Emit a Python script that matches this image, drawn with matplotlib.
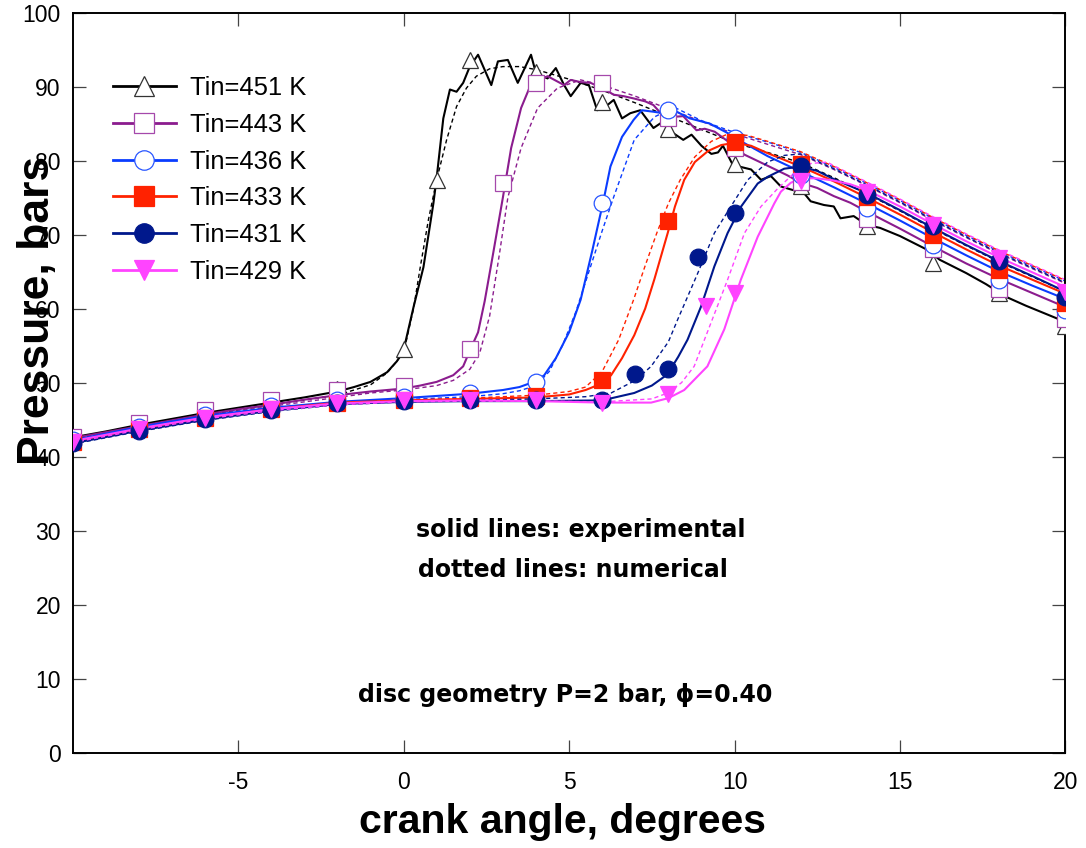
import matplotlib
matplotlib.use("Agg")
import matplotlib.pyplot as plt
from matplotlib.lines import Line2D

plt.rcParams['font.family'] = ['Liberation Sans', 'DejaVu Sans']
plt.rcParams['axes.unicode_minus'] = False

# ---- experimental (solid) and numerical (dashed) pressure traces ----
x451 = [-10, -9, -8, -7, -6, -5, -4, -3, -2, -1.5, -1, -0.5, -0.2, 0, 0.3, 0.6, 0.9, 1.0, 1.2, 1.4,
        1.6, 1.8, 2.0, 2.25, 2.65, 2.85, 3.15, 3.45, 3.85, 4.0, 4.35, 4.6, 4.85, 5.05, 5.35, 5.6, 5.85,
        6.05, 6.35, 6.6, 6.85, 7.15, 7.55, 7.85, 8.15, 8.45, 8.7, 9.0, 9.3, 9.5, 9.65, 9.95, 10.5,
        10.8, 11.1, 11.4, 11.7, 12.1, 12.3, 12.7, 13.0, 13.2, 13.6, 14.0, 14.4, 15.0, 15.4, 15.8,
        16.2, 16.6, 17.0, 17.6, 18.2, 18.8, 19.4, 20]
p451 = [42.6, 43.4, 44.3, 45.1, 45.9, 46.6, 47.3, 48.0, 48.8, 49.4, 50.1, 51.4, 52.9, 54.4, 60.2,
        65.6, 74.2, 77.7, 85.7, 89.6, 89.3, 90.5, 92.7, 94.3, 90.2, 93.4, 93.6, 90.5, 94.3, 91.8,
        91.1, 92.5, 90.2, 88.7, 90.5, 90.2, 86.8, 87.1, 88.2, 85.7, 86.4, 86.8, 84.4, 85.3, 83.7,
        82.8, 83.5, 82.0, 80.9, 81.1, 82.0, 79.4, 78.8, 77.4, 77.9, 76.5, 76.1, 75.6, 74.5, 74.0,
        73.8, 72.2, 72.5, 71.3, 70.9, 69.8, 68.9, 68.0, 66.6, 65.7, 64.8, 63.3, 61.6, 60.4, 59.3, 58.2]
x451_num = [-10, -8, -6, -4, -2, -1, -0.5, 0, 0.3, 0.5, 0.75, 1.0, 1.3, 1.6, 1.9, 2.2, 2.6, 3.0,
            3.5, 4.0, 5, 6, 7, 8, 9, 10, 11, 12, 13, 14, 15, 16, 17, 18, 19, 20]
p451_num = [42.3, 44.0, 45.6, 47.0, 48.3, 49.7, 51.3, 54.0, 60.0, 65.5, 72.0, 77.4, 82.8, 87.3,
            89.8, 91.4, 92.4, 92.7, 92.7, 92.3, 91.0, 89.5, 87.8, 86.0, 84.2, 82.4, 81.1, 79.7,
            77.7, 75.5, 73.2, 70.8, 68.5, 66.3, 64.3, 62.3]

x443 = [-10, -9, -8, -7, -6, -5, -4, -3, -2, -1, 0, 0.5, 1.0, 1.5, 1.8, 2.0, 2.25, 2.45, 2.7, 3.0,
        3.25, 3.55, 3.8, 4.1, 4.35, 4.6, 4.85, 5.05, 5.35, 5.65, 6.0, 6.35, 6.65, 6.95, 7.3, 7.55,
        7.85, 8.1, 8.45, 8.85, 9.1, 9.4, 9.8, 10.3, 11.0, 11.6, 12.0, 12.5, 13.0, 13.5, 14, 15, 16,
        17, 18, 19, 20]
p443 = [42.5, 43.3, 44.1, 44.9, 45.7, 46.4, 47.0, 47.7, 48.3, 48.8, 49.2, 49.6, 50.1, 51.0, 52.2,
        54.3, 56.8, 61.0, 67.3, 75.0, 81.7, 87.1, 89.8, 90.8, 91.4, 90.8, 90.2, 90.9, 90.6, 90.5,
        89.8, 88.9, 88.7, 88.4, 88.0, 87.5, 86.0, 85.9, 86.0, 84.1, 84.3, 83.9, 82.6, 80.8, 79.3,
        78.0, 77.0, 76.3, 75.2, 74.3, 73.1, 70.8, 68.4, 66.1, 64.0, 62.1, 60.2]
x443_num = [-10, -8, -6, -4, -2, -1, 0, 1, 1.5, 2.0, 2.3, 2.6, 2.9, 3.15, 3.55, 4.05, 4.65, 5.35,
            6, 7, 8, 9, 10, 11, 12, 13, 14, 15, 16, 17, 18, 19, 20]
p443_num = [42.2, 43.9, 45.5, 46.8, 48.0, 48.6, 49.0, 49.6, 50.3, 51.8, 54.0, 59.0, 67.5, 75.0,
            81.7, 87.1, 89.8, 90.9, 90.2, 88.7, 87.0, 85.3, 83.6, 82.2, 80.8, 78.8, 76.6, 74.3,
            71.9, 69.6, 67.4, 65.4, 63.4]

x436 = [-10, -8, -6, -4, -2, 0, 1, 2, 3, 3.5, 4.0, 4.25, 4.6, 5.0, 5.35, 5.7, 6.05, 6.25, 6.6,
        6.95, 7.2, 7.55, 7.85, 8.25, 8.65, 9.25, 9.8, 10.2, 11, 12, 13, 14, 15, 16, 17, 18, 19, 20]
p436 = [42.2, 44.0, 45.5, 46.6, 47.4, 47.9, 48.2, 48.5, 49.0, 49.4, 50.2, 51.0, 53.3, 56.8, 61.2,
        67.8, 74.8, 79.2, 83.2, 85.5, 86.8, 86.6, 86.4, 86.6, 85.7, 85.0, 83.7, 82.6, 80.6, 78.5,
        76.4, 74.2, 71.9, 69.5, 67.2, 65.0, 63.1, 61.3]
x436_num = [-10, -8, -6, -4, -2, 0, 2, 3, 3.5, 4.0, 4.4, 4.8, 5.2, 5.6, 6.0, 6.35, 6.97, 7.58,
            8.18, 9, 10, 11, 12, 13, 14, 15, 16, 17, 18, 19, 20]
p436_num = [42.0, 43.8, 45.3, 46.5, 47.3, 47.7, 48.1, 48.5, 48.9, 49.6, 51.5, 55.0, 59.5, 65.0,
            70.5, 75.1, 82.8, 85.9, 87.2, 85.4, 83.8, 82.5, 81.1, 79.1, 76.9, 74.6, 72.2, 69.9,
            67.7, 65.7, 63.7]

x433 = [-10, -8, -6, -4, -2, 0, 2, 4, 5, 5.5, 6.0, 6.27, 6.6, 6.97, 7.3, 7.58, 7.98, 8.2, 8.48,
        8.8, 9.2, 9.6, 10.0, 10.5, 11, 12, 13, 14, 15, 16, 17, 18, 19, 20]
p433 = [42.0, 43.7, 45.2, 46.4, 47.3, 47.6, 47.8, 48.0, 48.4, 49.0, 49.9, 51.0, 53.3, 56.4, 60.0,
        64.0, 70.2, 73.8, 77.4, 79.8, 81.3, 82.1, 82.4, 82.0, 81.0, 79.2, 77.2, 75.0, 72.7, 70.3,
        68.0, 65.8, 63.9, 62.0]
x433_num = [-10, -8, -6, -4, -2, 0, 2, 4, 5, 5.5, 6.0, 6.5, 6.95, 7.3, 7.65, 8.0, 8.36, 8.8, 9.3,
            9.8, 10.4, 11, 12, 13, 14, 15, 16, 17, 18, 19, 20]
p433_num = [41.9, 43.6, 45.1, 46.3, 47.2, 47.6, 47.9, 48.3, 48.8, 49.4, 51.5, 55.8, 61.2, 65.8,
            70.2, 74.2, 77.4, 80.5, 82.6, 83.6, 83.4, 82.6, 81.2, 79.2, 77.0, 74.7, 72.3, 70.0,
            67.8, 65.8, 63.8]

x431 = [-10, -8, -6, -4, -2, 0, 2, 4, 6, 6.97, 7.5, 7.97, 8.3, 8.58, 8.99, 9.39, 9.79, 10.2, 10.7,
        11.0, 11.5, 12.0, 12.5, 13, 14, 15, 16, 17, 18, 19, 20]
p431 = [41.8, 43.5, 45.0, 46.2, 47.1, 47.4, 47.5, 47.5, 47.6, 48.6, 49.6, 51.1, 53.5, 55.8, 60.3,
        65.7, 70.2, 73.8, 76.9, 77.8, 78.9, 79.2, 78.6, 77.5, 75.6, 73.3, 70.9, 68.6, 66.4, 64.4, 62.3]
x431_num = [-10, -8, -6, -4, -2, 0, 2, 4, 5.5, 6.27, 7.0, 7.48, 8.0, 8.28, 8.6, 8.89, 9.39, 9.89,
            10.4, 11, 11.5, 12, 13, 14, 15, 16, 17, 18, 19, 20]
p431_num = [41.7, 43.4, 44.9, 46.1, 47.0, 47.4, 47.6, 47.8, 48.1, 48.6, 50.3, 52.2, 55.5, 58.5,
            61.8, 64.8, 70.2, 73.8, 77.4, 79.8, 80.7, 80.9, 78.9, 76.7, 74.4, 72.0, 69.7, 67.5,
            65.5, 63.5]

x429 = [-10, -8, -6, -4, -2, 0, 2, 4, 6, 7.48, 8.0, 8.48, 9.18, 9.69, 10.19, 10.7, 11.2, 11.4,
        11.7, 12.0, 12.5, 13.0, 13.5, 14, 15, 16, 17, 18, 19, 20]
p429 = [42.1, 43.8, 45.3, 46.4, 47.2, 47.5, 47.6, 47.5, 47.3, 47.3, 47.9, 49.0, 52.2, 57.2, 63.9,
        69.7, 74.2, 75.8, 77.0, 77.6, 77.6, 77.3, 76.8, 76.0, 73.8, 71.4, 69.1, 66.9, 64.9, 62.9]
x429_num = [-10, -8, -6, -4, -2, 0, 2, 4, 6, 7.5, 7.98, 8.4, 8.78, 9.29, 9.79, 10.3, 10.8, 11.3,
            11.8, 12.3, 12.8, 13, 14, 15, 16, 17, 18, 19, 20]
p429_num = [41.9, 43.6, 45.1, 46.2, 47.0, 47.4, 47.5, 47.5, 47.4, 47.8, 48.6, 50.0, 52.2, 58.1,
            63.9, 70.2, 73.8, 76.2, 78.3, 79.6, 79.8, 79.3, 77.1, 74.8, 72.4, 70.1, 67.9, 65.9, 63.9]

# ---- symbols (measured points) ----
m451_x = [-10, -8, -6, -4, -2, 0, 1, 2, 4, 6, 8, 10, 12, 14, 16, 18, 20]
m451_y = [42.6, 44.4, 46.1, 47.6, 49.2, 54.6, 77.4, 93.6, 92.0, 87.9, 84.3, 79.6, 76.5, 71.1, 66.1, 62.1, 57.7]
m443_x = [-10, -8, -6, -4, -2, 0, 2, 3, 4, 6, 8, 10, 12, 14, 16, 18, 20]
m443_y = [42.7, 44.5, 46.3, 47.7, 49.0, 49.5, 54.6, 77.0, 90.5, 90.5, 85.8, 81.7, 77.1, 72.1, 68.1, 62.7, 58.6]
m436_x = [-10, -8, -6, -4, -2, 0, 2, 4, 6, 8, 10, 12, 14, 16, 18, 20]
m436_y = [42.3, 44.0, 45.6, 46.8, 47.6, 48.0, 48.6, 50.1, 74.3, 86.8, 83.0, 78.0, 73.6, 68.6, 63.9, 59.8]
m433_x = [-10, -8, -6, -4, -2, 0, 2, 4, 6, 8, 10, 12, 14, 16, 18, 20]
m433_y = [42.0, 43.7, 45.2, 46.4, 47.3, 47.7, 47.9, 48.2, 50.3, 71.8, 82.5, 79.6, 75.1, 70.0, 65.2, 60.7]
m431_x = [-10, -8, -6, -4, -2, 0, 2, 4, 6, 7, 8, 8.9, 10, 12, 14, 16, 18, 20]
m431_y = [41.8, 43.5, 45.1, 46.3, 47.2, 47.5, 47.6, 47.6, 47.7, 51.2, 51.8, 67.0, 72.9, 79.2, 75.4, 71.1, 66.4, 61.6]
m429_x = [-10, -8, -6, -4, -2, 0, 2, 4, 6, 8, 9.15, 10, 12, 14, 16, 18, 20]
m429_y = [42.0, 43.7, 45.2, 46.4, 47.3, 47.6, 47.7, 47.6, 47.3, 48.4, 60.4, 62.1, 77.3, 75.8, 71.3, 66.8, 62.3]

labels = ['Tin=451 K', 'Tin=443 K', 'Tin=436 K', 'Tin=433 K', 'Tin=431 K', 'Tin=429 K']

series = [
    (x451, p451, x451_num, p451_num, m451_x, m451_y, '#000000', '^', 'white', '#333333'),
    (x443, p443, x443_num, p443_num, m443_x, m443_y, '#8b1c8e', 's', 'white', '#a548ab'),
    (x436, p436, x436_num, p436_num, m436_x, m436_y, '#0a3cff', 'o', 'white', '#2855ff'),
    (x433, p433, x433_num, p433_num, m433_x, m433_y, '#ff2200', 's', '#ff2200', '#ff2200'),
    (x431, p431, x431_num, p431_num, m431_x, m431_y, '#00188c', 'o', '#00188c', '#00188c'),
    (x429, p429, x429_num, p429_num, m429_x, m429_y, '#ff44ff', 'v', '#ff44ff', '#ff44ff'),
]

fig = plt.figure(figsize=(10.86, 8.48), dpi=100)
ax = fig.add_axes([0.0669, 0.1124, 0.9142, 0.8728])

handles = []
for i, (xs, ps, xn, pn, mx, my, col, mk, fc, ec) in enumerate(series):
    ax.plot(xs, ps, color=col, lw=1.5, zorder=2 + i * 0.1)
    ax.plot(xn, pn, color=col, lw=1.0, dashes=(3, 2.2), zorder=2 + i * 0.1)
    ax.plot(mx, my, ls='none', marker=mk, ms=12, mfc=fc, mec=ec, mew=0.9, zorder=3 + i * 0.1)
    handles.append(Line2D([], [], color=col, lw=2, marker=mk, ms=14, mfc=fc, mec=ec, mew=0.9))

leg = ax.legend(handles, labels, loc='upper left', bbox_to_anchor=(113 / 1086, 1 - 76 / 848),
                bbox_transform=fig.transFigure, frameon=False, fontsize=18.4,
                handlelength=2.46, handletextpad=0.55, labelspacing=0.5, borderpad=0,
                borderaxespad=0)

ax.set_xlim(-10, 20)
ax.set_ylim(0, 100)
ax.set_xticks([-5, 0, 5, 10, 15, 20])
ax.set_yticks(range(0, 101, 10))
ax.tick_params(direction='in', length=9.4, width=0.9, color='#444444', labelsize=16.5,
               top=True, right=True)
ax.tick_params(axis='x', pad=13.5)
ax.tick_params(axis='y', pad=8.5)
for s in ax.spines.values():
    s.set_linewidth(1.4)

bold = dict(family=['DejaVu Sans'], fontweight='bold', fontsize=17)
ax.text(0.38, 29.1, 'solid lines: experimental', ha='left', va='baseline', **bold)
ax.text(0.45, 23.7, 'dotted lines: numerical', ha='left', va='baseline', **bold)
ax.text(-1.37, 6.9, 'disc geometry P=2 bar, \u03d5=0.40', ha='left', va='baseline', **bold)

fig.text(562 / 1086, 1 - 822 / 848, 'crank angle, degrees', ha='center', va='center',
         fontsize=29.5, fontweight='bold')
fig.text(38 / 1086, 1 - 310 / 848, 'Pressure, bars', ha='center', va='center',
         rotation=90, fontsize=32, fontweight='bold')

fig.savefig('out.png', dpi=100)
